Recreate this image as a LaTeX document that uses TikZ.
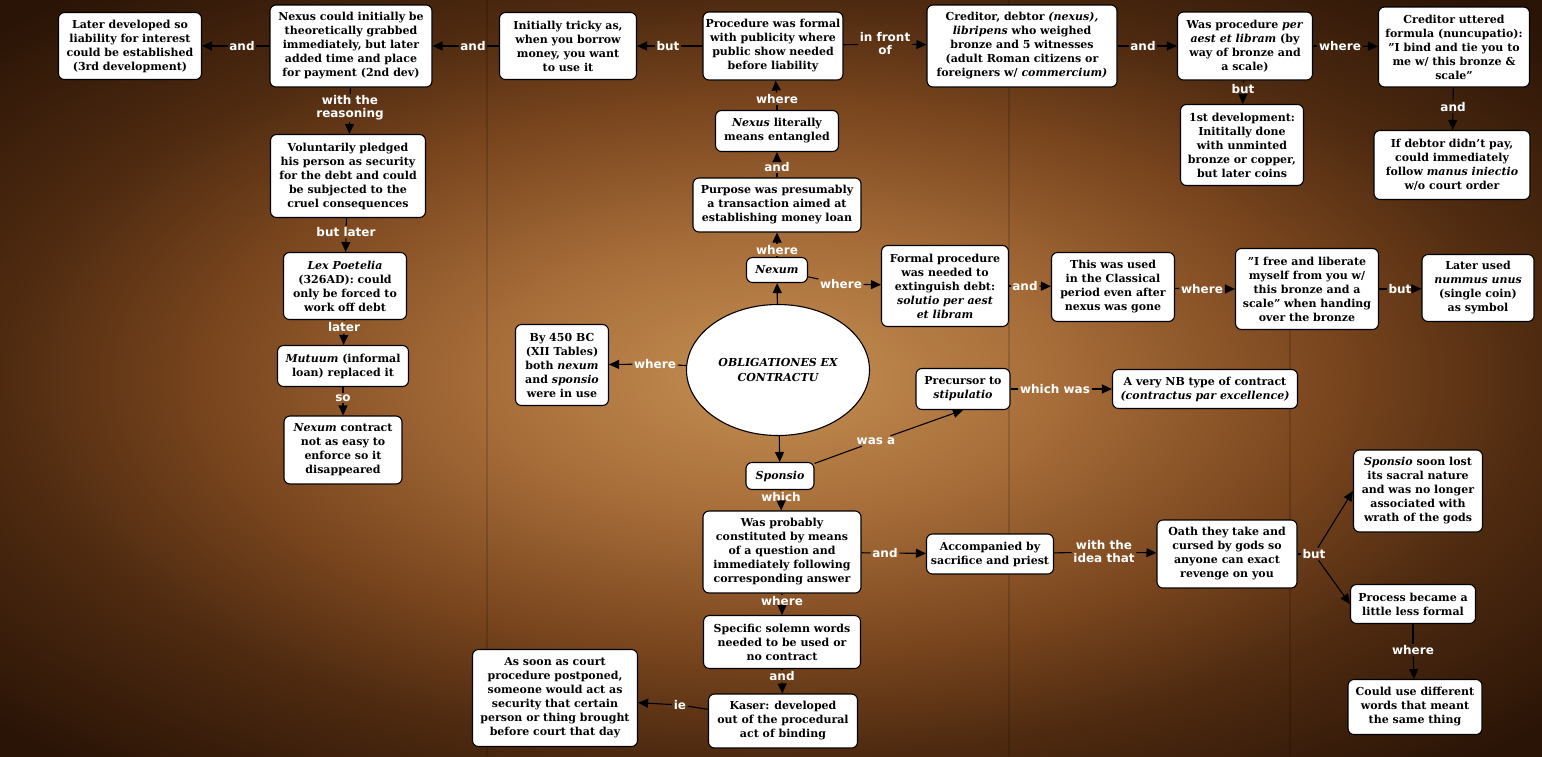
\documentclass[tikz,border=0pt]{standalone}
\usepackage{fontspec}
\setmainfont{DejaVu Serif}[Ligatures=ResetAll]
\newfontfamily\lblfont{DejaVu Sans}
\usetikzlibrary{arrows.meta,shapes.geometric}
\definecolor{pA}{HTML}{C48F52}
\definecolor{pB}{HTML}{A86E3A}
\definecolor{pC}{HTML}{7A461E}
\definecolor{pD}{HTML}{4E2A10}
\definecolor{pE}{HTML}{2A1406}
\pgfdeclareradialshading{parch}{\pgfpoint{0bp}{0bp}}{color(0bp)=(pA); color(9bp)=(pB); color(18bp)=(pC); color(25bp)=(pD); color(34bp)=(pE); color(50bp)=(pE)}
\tikzset{
  box/.style={draw=black, line width=1.1pt, fill=white, rounded corners=6pt, align=center,
    font=\bfseries\fontsize{11}{14}\selectfont, inner sep=2pt},
  lbl/.style={text=white, font=\lblfont\bfseries\fontsize{12}{13}\selectfont, inner sep=1.5pt, align=center},
  ln/.style={draw=black, line width=1.1pt},
  ar/.style={draw=black, line width=1.1pt, -{Triangle[length=10pt,width=9pt]}},
  seam/.style={draw=black, opacity=0.15, line width=1.5pt}
}
\begin{document}
\begin{tikzpicture}[x=1pt,y=-1pt]
\useasboundingbox (0,0) rectangle (1542,756);
\shade[shading=parch] (0,0) rectangle (1542,756);
\draw[seam] (487,0) -- (487,756);
\draw[seam] (1009,0) -- (1009,756);
\draw[seam] (1290,300) -- (1290,756);

% nodes
\node[box, minimum width=143, minimum height=67] (L3) at (130,46) {Later developed so\\liability for interest\\could be established\\(3rd development)};
\node[box, minimum width=162, minimum height=82] (N2) at (351,46) {Nexus could initially be\\theoretically grabbed\\immediately, but later\\added time and place\\for payment (2nd dev)};
\node[box, minimum width=137, minimum height=67] (IT) at (568,46) {Initially tricky as,\\when you borrow\\money, you want\\to use it};
\node[box, minimum width=140, minimum height=68] (PF) at (773,46) {Procedure was formal\\with publicity where\\public show needed\\before liability};
\node[box, minimum width=190, minimum height=82] (CD) at (1022,46) {Creditor, debtor \textit{(nexus),}\\\textit{libripens} who weighed\\bronze and 5 witnesses\\(adult Roman citizens or\\foreigners w/ \textit{commercium)}};
\node[box, minimum width=135, minimum height=68] (WP) at (1245,46) {Was procedure \textit{per}\\\textit{aest et libram} (by\\way of bronze and\\a scale)};
\node[box, minimum width=151, minimum height=80] (CU) at (1454,47) {Creditor uttered\\formula (nuncupatio):\\"I bind and tie you to\\me w/ this bronze \&\\scale"};
\node[box, minimum width=123, minimum height=81] (FD) at (1242,145) {1st development:\\Inititally done\\with unminted\\bronze or copper,\\but later coins};
\node[box, minimum width=156, minimum height=69] (ID) at (1452,165) {If debtor didn't pay,\\could immediately\\follow \textit{manus iniectio}\\w/o court order};
\node[box, minimum width=123, minimum height=41] (NL) at (777,131) {\textit{Nexus} literally\\means entangled};
\node[box, minimum width=168, minimum height=54] (PP) at (777,205) {Purpose was presumably\\a transaction aimed at\\establishing money loan};
\node[box, minimum width=61, minimum height=25] (NX) at (777,270) {\textit{Nexum}};
\node[box, minimum width=155, minimum height=83] (VP) at (348,176) {Voluntarily pledged\\his person as security\\for the debt and could\\be subjected to the\\cruel consequences};
\node[box, minimum width=123, minimum height=67] (LP) at (345,286) {\textit{Lex Poetelia}\\(326AD): could\\only be forced to\\work off debt};
\node[box, minimum width=131, minimum height=41] (MU) at (343,366) {\textit{Mutuum} (informal\\loan) replaced it};
\node[box, minimum width=118, minimum height=68] (NC) at (343,450) {\textit{Nexum} contract\\not as easy to\\enforce so it\\disappeared};
\node[box, minimum width=93, minimum height=81] (BY) at (562,365) {By 450 BC\\(XII Tables)\\both \textit{nexum}\\and \textit{sponsio}\\were in use};
\node[draw=black, line width=1.1pt, fill=white, ellipse, minimum width=183, minimum height=131, inner sep=0pt, align=center, font=\bfseries\itshape\fontsize{11}{15}\selectfont] (OB) at (778,370) {OBLIGATIONES EX\\CONTRACTU};
\node[box, minimum width=127, minimum height=81] (FP) at (945,286) {Formal procedure\\was needed to\\extinguish debt:\\\textit{solutio per aest}\\\textit{et libram}};
\node[box, minimum width=123, minimum height=69] (TW) at (1113,287) {This was used\\in the Classical\\period even after\\nexus was gone};
\node[box, minimum width=143, minimum height=81] (IF) at (1307,289) {"I free and liberate\\myself from you w/\\this bronze and a\\scale" when handing\\over the bronze};
\node[box, minimum width=112, minimum height=67] (LU) at (1478,288) {Later used\\\textit{nummus unus}\\(single coin)\\as symbol};
\node[box, minimum width=94, minimum height=41] (PR) at (963,389) {Precursor to\\\textit{stipulatio}};
\node[box, minimum width=185, minimum height=39] (AV) at (1205,389) {A very NB type of contract\\\textit{(contractus par excellence)}};
\node[box, minimum width=68, minimum height=27] (SP) at (780,476) {\textit{Sponsio}};
\node[box, minimum width=158, minimum height=82] (WB) at (782,552) {Was probably\\constituted by means\\of a question and\\immediately following\\corresponding answer};
\node[box, minimum width=127, minimum height=40] (AC) at (990,554) {Accompanied by\\sacrifice and priest};
\node[box, minimum width=140, minimum height=68] (OA) at (1227,554) {Oath they take and\\cursed by gods so\\anyone can exact\\revenge on you};
\node[box, minimum width=129, minimum height=82] (SL) at (1418,491) {\textit{Sponsio} soon lost\\its sacral nature\\and was no longer\\associated with\\wrath of the gods};
\node[box, minimum width=125, minimum height=39] (PB) at (1413,604) {Process became a\\little less formal};
\node[box, minimum width=134, minimum height=55] (CW) at (1415,707) {Could use different\\words that meant\\the same thing};
\node[box, minimum width=157, minimum height=53] (SS) at (782,642) {Specific solemn words\\needed to be used or\\no contract};
\node[box, minimum width=149, minimum height=54] (KA) at (783,721) {Kaser: developed\\out of the procedural\\act of binding};
\node[box, minimum width=165, minimum height=97] (AS) at (555,698) {As soon as court\\procedure postponed,\\someone would act as\\security that certain\\person or thing brought\\before court that day};

% labels
\node[lbl] (l1) at (242,46) {and};
\node[lbl] (l2) at (473,46) {and};
\node[lbl] (l3) at (668,46) {but};
\node[lbl] (l4) at (885,44) {in front\\of};
\node[lbl] (l5) at (1143,46) {and};
\node[lbl] (l6) at (1340,46) {where};
\node[lbl] (l7) at (1243,89) {but};
\node[lbl] (l8) at (1453,107) {and};
\node[lbl] (l9) at (777,99) {where};
\node[lbl] (l10) at (777,167) {and};
\node[lbl] (l11) at (777,250) {where};
\node[lbl] (l12) at (841,284) {where};
\node[lbl] (l13) at (1025,286) {and};
\node[lbl] (l14) at (1202,289) {where};
\node[lbl] (l15) at (1400,289) {but};
\node[lbl] (l16) at (350,108) {with the\\reasoning};
\node[lbl] (l17) at (346,232) {but later};
\node[lbl] (l18) at (344,327) {later};
\node[lbl] (l19) at (343,398) {so};
\node[lbl] (l20) at (655,364) {where};
\node[lbl] (l21) at (876,441) {was a};
\node[lbl] (l22) at (1055,389) {which was};
\node[lbl] (l23) at (781,497) {which};
\node[lbl] (l24) at (885,553) {and};
\node[lbl] (l25) at (1104,552) {with the\\idea that};
\node[lbl] (l26) at (1314,554) {but};
\node[lbl] (l27) at (1413,650) {where};
\node[lbl] (l28) at (782,601) {where};
\node[lbl] (l29) at (782,676) {and};
\node[lbl] (l30) at (680,705) {ie};

% connectors
\draw[ln] (N2) -- (l1); \draw[ar] (l1) -- (L3);
\draw[ln] (IT) -- (l2); \draw[ar] (l2) -- (N2);
\draw[ln] (PF) -- (l3); \draw[ar] (l3) -- (IT);
\draw[ln] (PF) -- (l4); \draw[ar] (l4) -- (CD);
\draw[ln] (CD) -- (l5); \draw[ar] (l5) -- (WP);
\draw[ln] (WP) -- (l6); \draw[ar] (l6) -- (CU);
\draw[ln] (WP) -- (l7); \draw[ar] (l7) -- (FD);
\draw[ln] (CU) -- (l8); \draw[ar] (l8) -- (ID);
\draw[ln] (NL) -- (l9); \draw[ar] (l9) -- (PF);
\draw[ln] (PP) -- (l10); \draw[ar] (l10) -- (NL);
\draw[ln] (NX) -- (l11); \draw[ar] (l11) -- (PP);
\draw[ar] (OB) -- (NX);
\draw[ln] (NX) -- (l12); \draw[ar] (l12) -- (FP);
\draw[ln] (FP) -- (l13); \draw[ar] (l13) -- (TW);
\draw[ln] (TW) -- (l14); \draw[ar] (l14) -- (IF);
\draw[ln] (IF) -- (l15); \draw[ar] (l15) -- (LU);
\draw[ln] (N2) -- (l16); \draw[ar] (l16) -- (VP);
\draw[ln] (VP) -- (l17); \draw[ar] (l17) -- (LP);
\draw[ln] (LP) -- (l18); \draw[ar] (l18) -- (MU);
\draw[ln] (MU) -- (l19); \draw[ar] (l19) -- (NC);
\draw[ln] (OB) -- (l20); \draw[ar] (l20) -- (BY);
\draw[ar] (OB) -- (SP);
\draw[ln] (SP) -- (l21); \draw[ar] (l21) -- (PR.south);
\draw[ln] (PR) -- (l22); \draw[ar] (l22) -- (AV);
\draw[ln] (SP) -- (l23); \draw[ar] (l23) -- (WB);
\draw[ln] (WB) -- (l24); \draw[ar] (l24) -- (AC);
\draw[ln] (AC) -- (l25); \draw[ar] (l25) -- (OA);
\draw[ln] (OA) -- (l26); \draw[ar] (l26) -- (SL.west); \draw[ar] (l26) -- (PB.west);
\draw[ln] (PB) -- (l27); \draw[ar] (l27) -- (CW);
\draw[ln] (WB) -- (l28); \draw[ar] (l28) -- (SS);
\draw[ln] (SS) -- (l29); \draw[ar] (l29) -- (KA);
\draw[ln] (KA) -- (l30); \draw[ar] (l30) -- (AS);
\end{tikzpicture}
\end{document}
